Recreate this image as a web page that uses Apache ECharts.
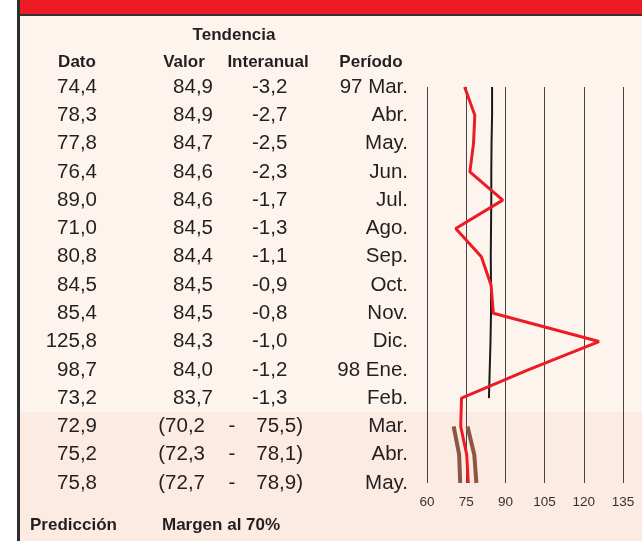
<!DOCTYPE html>
<html>
<head>
<meta charset="utf-8">
<script src="https://cdn.jsdelivr.net/npm/echarts@6/dist/echarts.min.js"></script>
<style>
html, body { margin: 0; padding: 0; background: #fff; }
#chart { width: 642px; height: 541px; }
</style>
</head>
<body>
<div id="chart"></div>
<script>
// 기간 라벨
const periodos = ['97 Mar.', 'Abr.', 'May.', 'Jun.', 'Jul.', 'Ago.', 'Sep.', 'Oct.', 'Nov.', 'Dic.', '98 Ene.', 'Feb.', 'Mar.', 'Abr.', 'May.'];
// 실제 수치 (Dato)
const datos = [74.4, 78.3, 77.8, 76.4, 89.0, 71.0, 80.8, 84.5, 85.4, 125.8, 98.7, 73.2];
// 추세 값 / 전년 대비
const tendencia = [84.9, 84.9, 84.7, 84.6, 84.6, 84.5, 84.4, 84.5, 84.5, 84.3, 84.0, 83.7];
const interanual = [-3.2, -2.7, -2.5, -2.3, -1.7, -1.3, -1.1, -0.9, -0.8, -1.0, -1.2, -1.3];
// 예측값과 70% 구간
const prediccion = [72.9, 75.2, 75.8];
const margenInf = [70.2, 72.3, 72.7];
const margenSup = [75.5, 78.1, 78.9];
// x축 눈금
const ejeMin = 60, ejeMax = 135, ejePaso = 15;

const chart = echarts.init(document.getElementById('chart'));
const FONT = '"Liberation Sans", Arial, Helvetica, sans-serif';
const n = datos.length;
const cats = periodos.map((p, i) => String(i));

// 소수점 쉼표 표기
const fmt = v => v.toFixed(1).replace('.', ',');
const vacio = Array(n).fill(null);

// 표 열을 y축 라벨로 그림
function columna(margin, align, formatter) {
    return {
        type: 'category',
        position: 'left',
        offset: 0,
        data: cats,
        inverse: true,
        boundaryGap: false,
        axisLine: { show: false },
        axisTick: { show: false },
        splitLine: { show: false },
        axisLabel: {
            interval: 0,
            margin: margin,
            align: align,
            fontSize: 20.5,
            color: '#231f20',
            fontFamily: FONT,
            formatter: (v, i) => formatter(i)
        }
    };
}

const header = (text, x, y, align) => ({
    type: 'text', x: x, y: y,
    style: { text: text, fontSize: 17, fontWeight: 'bold', fontFamily: FONT, fill: '#231f20', textAlign: align || 'center', textVerticalAlign: 'middle' }
});

const option = {
    animation: false,
    backgroundColor: '#ffffff',
    grid: { left: 427, right: 19, top: 87, bottom: 58, containLabel: false, outerBoundsMode: 'none' },
    xAxis: {
        type: 'value',
        min: ejeMin, max: ejeMax, interval: ejePaso,
        axisLine: { show: false },
        axisTick: { show: false },
        splitLine: { show: true, lineStyle: { color: '#444', width: 1 } },
        axisLabel: { fontSize: 13.5, color: '#333', margin: 12, fontFamily: FONT }
    },
    yAxis: [
        columna(19, 'right', i => periodos[i]),
        columna(330, 'right', i => i < n ? fmt(datos[i]) : fmt(prediccion[i - n])),
        columna(214, 'right', i => i < n ? fmt(tendencia[i]) : ''),
        columna(175, 'left', i => i < n ? fmt(interanual[i]) : ''),
        // 예측 구간 (하한 - 상한)
        columna(222, 'right', i => i < n ? '' : '(' + fmt(margenInf[i - n])),
        columna(195, 'center', i => i < n ? '' : '-'),
        columna(124, 'right', i => i < n ? '' : fmt(margenSup[i - n]) + ')')
    ],
    graphic: [
        // 배경과 테두리
        { type: 'rect', z: -10, shape: { x: 20, y: 16, width: 622, height: 396 }, style: { fill: '#fef4ee' } },
        { type: 'rect', z: -10, shape: { x: 20, y: 412, width: 622, height: 129 }, style: { fill: '#fcebe2' } },
        { type: 'rect', z: -10, shape: { x: 20, y: 0, width: 622, height: 14 }, style: { fill: '#ed1c24' } },
        { type: 'rect', z: -10, shape: { x: 20, y: 14, width: 622, height: 2 }, style: { fill: '#333' } },
        { type: 'rect', z: -10, shape: { x: 17, y: 0, width: 3, height: 541 }, style: { fill: '#2e2e2e' } },
        // 표 제목
        header('Tendencia', 234, 35),
        header('Dato', 77, 62),
        header('Valor', 184, 62),
        header('Interanual', 268, 62),
        header('Período', 371, 62),
        header('Predicción', 30, 525, 'left'),
        header('Margen al 70%', 162, 525, 'left')
    ],
    series: [
        {
            name: 'Margen inferior', type: 'line', symbol: 'none',
            data: vacio.concat(margenInf),
            lineStyle: { color: '#8a5744', width: 4 }
        },
        {
            name: 'Margen superior', type: 'line', symbol: 'none',
            data: vacio.concat(margenSup),
            lineStyle: { color: '#8a5744', width: 4 }
        },
        {
            name: 'Tendencia', type: 'line', symbol: 'none',
            data: tendencia,
            lineStyle: { color: '#1a1a1a', width: 2 }
        },
        {
            name: 'Dato', type: 'line', symbol: 'none',
            data: datos.concat(prediccion),
            lineStyle: { color: '#ec1c24', width: 3 }
        }
    ]
};

chart.setOption(option);
</script>
</body>
</html>
